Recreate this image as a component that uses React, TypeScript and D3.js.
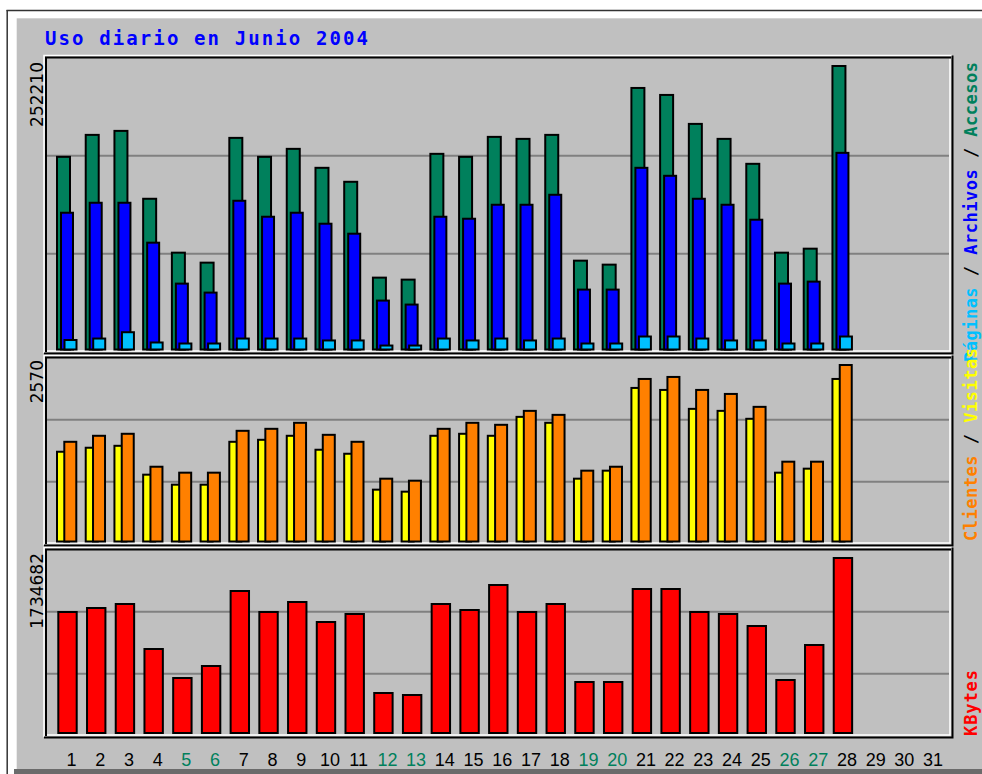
import React, { useEffect, useRef } from 'react';
import * as d3 from 'd3';

// Daily usage, June 2004
const days = [1, 2, 3, 4, 5, 6, 7, 8, 9, 10, 11, 12, 13, 14, 15, 16, 17, 18, 19, 20, 21, 22, 23, 24, 25, 26, 27, 28, 29, 30, 31];
const weekendDays = [5, 6, 12, 13, 19, 20, 26, 27];

const accesos = [171680, 191150, 194690, 134510, 86730, 77880, 188490, 171680, 178760, 161950, 149560, 64600, 62830, 174340, 171680, 189380, 187610, 191150, 79650, 76110, 232740, 226550, 200880, 187610, 165490, 86730, 90270, 252210];
const archivos = [122120, 130970, 130970, 95580, 59290, 51330, 132740, 118580, 122120, 112390, 103540, 44250, 40710, 118580, 116810, 129200, 129200, 138050, 53980, 53980, 161950, 154870, 134510, 129200, 115930, 59290, 61060, 175220];
const paginas = [9300, 10600, 16200, 7100, 6200, 6200, 10600, 10600, 10600, 8900, 8900, 4400, 4400, 10600, 8900, 10600, 8900, 10600, 6200, 6200, 12400, 12400, 10600, 8900, 8900, 6200, 6200, 12400];

const clientes = [1458, 1545, 1574, 1097, 1011, 1011, 1617, 1646, 1733, 1559, 1458, 924, 895, 1646, 1733, 1704, 1906, 1848, 1040, 1097, 2368, 2397, 2209, 2151, 1964, 1170, 1170, 2570];
const visitas = [1314, 1372, 1400, 982, 837, 837, 1458, 1487, 1545, 1343, 1285, 765, 736, 1545, 1574, 1545, 1819, 1733, 924, 1040, 2238, 2209, 1935, 1906, 1791, 1011, 1069, 2368];

const kbytes = [1202430, 1241860, 1281280, 837760, 551940, 670210, 1409410, 1202430, 1300990, 1103870, 1182720, 404100, 384380, 1281280, 1222140, 1468540, 1202430, 1281280, 512510, 512510, 1429120, 1429120, 1202430, 1182720, 1064450, 532220, 877180, 1734682];

const maxLabels = ['252210', '2570', '1734682'];

const C = {
  bg: '#C0C0C0',
  accesos: '#00805C',
  archivos: '#0000FF',
  paginas: '#00C0FF',
  visitas: '#FFFF00',
  clientes: '#FF8000',
  kbytes: '#FF0000',
  grid: '#808080',
  weekend: '#00805C',
};

const App: React.FC = () => {
  const ref = useRef<SVGSVGElement>(null);

  useEffect(() => {
    if (!ref.current) return;
    const svg = d3.select(ref.current);
    svg.selectAll('*').remove();

    const W = 982;
    const H = 774;

    // outer frame
    svg.append('rect').attr('width', W).attr('height', H).attr('fill', '#fff');
    svg.append('rect').attr('x', 16.7).attr('y', 18.3).attr('width', W - 16.7).attr('height', 769 - 18.3).attr('fill', C.bg);
    svg.append('rect').attr('x', 14).attr('y', 769).attr('width', W - 14).attr('height', 5).attr('fill', '#6b6b6b');
    svg.append('line').attr('x1', 7.2).attr('x2', 7.2).attr('y1', 10).attr('y2', H).attr('stroke', '#333').attr('stroke-width', 1.5);
    svg.append('line').attr('x1', 6.5).attr('x2', W).attr('y1', 10.5).attr('y2', 10.5).attr('stroke', '#333').attr('stroke-width', 1.5);

    // title
    svg.append('text')
      .attr('x', 45).attr('y', 45)
      .attr('font-family', 'DejaVu Sans Mono').attr('font-weight', 'bold').attr('font-size', 19)
      .attr('textLength', 323).attr('lengthAdjust', 'spacing')
      .attr('fill', '#0000FF')
      .text('Uso diario en Junio 2004');

    const x0 = 46;
    const x1 = 951;
    const panels = [
      { top: 57.5, bottom: 352, base: 349.5, maxY: 65 },
      { top: 357.5, bottom: 544, base: 541.5, maxY: 364 },
      { top: 549.5, bottom: 736, base: 733, maxY: 557 },
    ];

    // panel frames + grid
    panels.forEach(p => {
      const g = svg.append('g');
      g.append('path').attr('d', `M${x0 - 2},${p.bottom + 1}V${p.top - 2}H${x1 + 1}`).attr('fill', 'none').attr('stroke', '#fff').attr('stroke-width', 1.5);
      g.append('path').attr('d', `M${x1 - 1},${p.top + 1}V${p.bottom - 1}H${x0 + 1}`).attr('fill', 'none').attr('stroke', '#fff').attr('stroke-width', 1.5);
      g.append('path').attr('d', `M${x0},${p.bottom}V${p.top}H${x1}`).attr('fill', 'none').attr('stroke', '#000').attr('stroke-width', 2);
      g.append('path').attr('d', `M${x1 + 1.5},${p.top - 2}V${p.bottom + 1.5}H${x0 - 2}`).attr('fill', 'none').attr('stroke', '#000').attr('stroke-width', 2);
      const h = p.bottom - p.top;
      [1, 2].forEach(i => {
        g.append('line')
          .attr('x1', x0 + 1).attr('x2', x1 - 2)
          .attr('y1', p.top + (h * i) / 3).attr('y2', p.top + (h * i) / 3)
          .attr('stroke', C.grid).attr('stroke-width', 2);
      });
    });

    const x = d3.scaleLinear().domain([1, 31]).range([56, 56 + 30 * 28.72]);
    const yTop = d3.scaleLinear().domain([0, 252210]).range([panels[0].base, panels[0].maxY]);
    const yMid = d3.scaleLinear().domain([0, 2570]).range([panels[1].base, panels[1].maxY]);
    const yBot = d3.scaleLinear().domain([0, 1734682]).range([panels[2].base, panels[2].maxY]);

    const bars = (
      data: number[],
      y: d3.ScaleLinear<number, number>,
      base: number,
      off: number,
      w: number,
      fill: string
    ) => {
      svg.append('g')
        .selectAll('rect')
        .data(data)
        .enter()
        .append('rect')
        .attr('x', (d, i) => x(days[i]) + off + 1)
        .attr('y', d => y(d) + 1)
        .attr('width', w - 2)
        .attr('height', d => Math.max(1, base - y(d) - 1))
        .attr('fill', fill)
        .attr('stroke', '#000')
        .attr('stroke-width', 2);
    };

    bars(accesos, yTop, panels[0].base, 0, 15, C.accesos);
    bars(archivos, yTop, panels[0].base, 4, 14, C.archivos);
    bars(paginas, yTop, panels[0].base, 7.5, 14, C.paginas);

    bars(visitas, yMid, panels[1].base, 0, 14, C.visitas);
    bars(clientes, yMid, panels[1].base, 7.3, 14, C.clientes);

    bars(kbytes, yBot, panels[2].base, 1.3, 20.4, C.kbytes);

    // max value labels (rotated)
    const maxTops = [62, 360, 553];
    maxLabels.forEach((t, i) => {
      svg.append('text')
        .attr('transform', `translate(43,${maxTops[i]}) rotate(-90)`)
        .attr('text-anchor', 'end')
        .attr('font-family', 'DejaVu Sans').attr('font-size', 17)
        .attr('fill', '#000')
        .text(t);
    });

    // right side labels
    const rightLabel = (start: number, len: number, parts: [string, string][]) => {
      const t = svg.append('text')
        .attr('transform', `translate(977,${start}) rotate(-90)`)
        .attr('font-family', 'DejaVu Sans Mono').attr('font-weight', 'bold').attr('font-size', 17)
        .attr('textLength', len).attr('lengthAdjust', 'spacing');
      parts.forEach(([s, c]) => t.append('tspan').attr('fill', c).text(s));
    };
    rightLabel(362, 300, [['Páginas', C.paginas], [' / ', '#000'], ['Archivos', C.archivos], [' / ', '#000'], ['Accesos', C.accesos]]);
    rightLabel(541, 193, [['Clientes', C.clientes], [' / ', '#000'], ['Visitas', C.visitas]]);
    rightLabel(736, 66, [['KBytes', C.kbytes]]);

    // day labels
    svg.append('g')
      .selectAll('text')
      .data(days)
      .enter()
      .append('text')
      .attr('x', d => x(d) + 15.5)
      .attr('y', 766)
      .attr('text-anchor', 'middle')
      .attr('font-family', 'Liberation Sans').attr('font-size', 18)
      .attr('fill', d => (weekendDays.includes(d) ? C.weekend : '#000'))
      .text(d => String(d));
  }, []);

  return (
    <svg
      ref={ref}
      width={982}
      height={774}
      style={{ position: 'absolute', left: 0, top: 0, display: 'block' }}
    />
  );
};

export default App;
